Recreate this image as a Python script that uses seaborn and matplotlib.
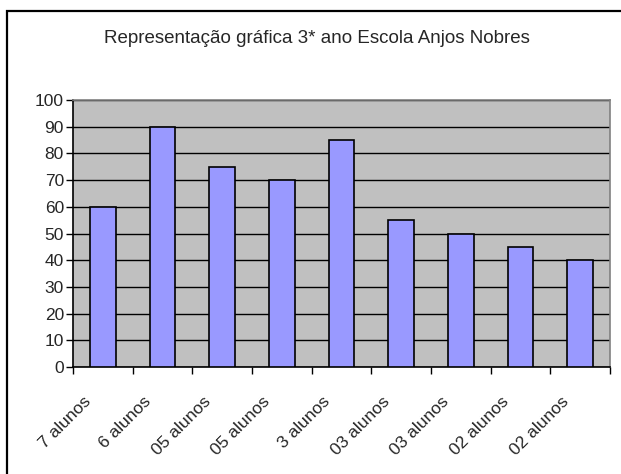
import matplotlib
matplotlib.use("Agg")
import matplotlib.pyplot as plt
import matplotlib.transforms as mtransforms
from matplotlib.patches import Rectangle
import seaborn as sns
import pandas as pd

title = "Representação gráfica 3* ano Escola Anjos Nobres"
labels = ["7 alunos", "6 alunos", "05 alunos", "05 alunos", "3 alunos",
          "03 alunos", "03 alunos", "02 alunos", "02 alunos"]
values = [60, 90, 75, 70, 85, 55, 50, 45, 40]
yticks = list(range(0, 101, 10))

df = pd.DataFrame({"pos": range(len(values)), "valor": values})

sns.set_style("white")
plt.rcParams["font.family"] = ["Liberation Sans", "DejaVu Sans"]

fig = plt.figure(figsize=(6.21, 4.74), dpi=100)
ax = fig.add_axes([73 / 621, 1 - 367 / 474, (610 - 73) / 621, (367 - 100) / 474])

sns.barplot(data=df, x="pos", y="valor", color="#9999FF", saturation=1,
            width=0.43, edgecolor="black", linewidth=1.2, ax=ax, zorder=3)

ax.set_facecolor("#C0C0C0")
ax.set_xlim(-0.5, len(values) - 0.5)
ax.set_ylim(0, 100)
ax.set_yticks(yticks)
ax.yaxis.grid(True, color="black", linewidth=1)
ax.xaxis.grid(False)
ax.set_axisbelow(True)
for s in ax.spines.values():
    s.set_color("#808080")
    s.set_linewidth(1.2)
ax.spines["left"].set_color("black")
ax.spines["bottom"].set_color("black")
ax.set_xlabel("")
ax.set_ylabel("")

# category labels between boundary ticks
ax.set_xticks(range(len(values)))
ax.set_xticklabels(labels, rotation=45, ha="right", va="center",
                   rotation_mode="anchor", fontsize=12.5)
ax.set_xticks([i - 0.5 for i in range(len(values) + 1)], minor=True)
ax.tick_params(axis="x", which="major", length=0, pad=23)
ax.tick_params(axis="x", which="minor", length=5, width=1, color="black",
               direction="out", bottom=True)
ax.tick_params(axis="y", length=5, width=1, color="black", direction="out",
               left=True, labelsize=12.5, pad=1.5)
shift = mtransforms.ScaledTranslation(-14 / 100, 0, fig.dpi_scale_trans)
for lab in ax.get_xticklabels():
    lab.set_transform(lab.get_transform() + shift)

fig.text(316.5 / 621, 1 - 43 / 474, title, ha="center", va="baseline",
         fontsize=13.5)

# outer chart border
fig.patches.append(Rectangle((7 / 621, -0.1), 1.2, 0.1 + 1 - 11 / 474,
                             transform=fig.transFigure, fill=False,
                             edgecolor="black", linewidth=1.6))

fig.savefig("out.png", dpi=100, facecolor="white")
